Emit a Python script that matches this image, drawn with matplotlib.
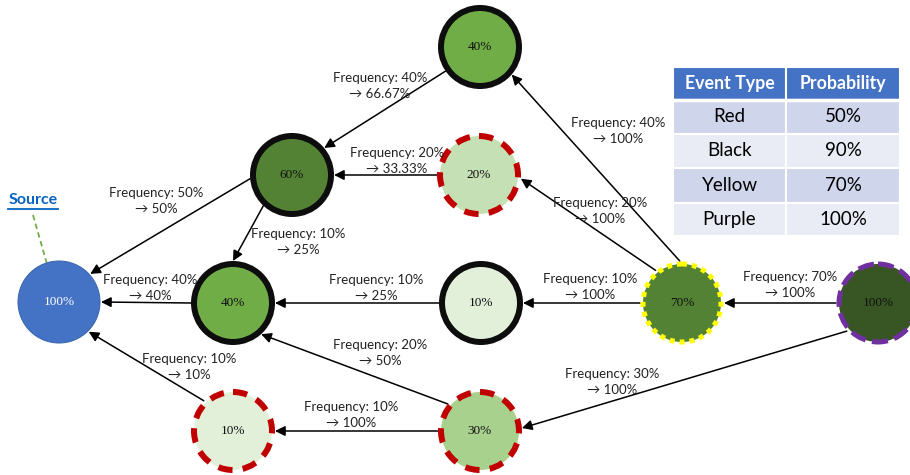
import numpy as np
import matplotlib
matplotlib.use("Agg")
import matplotlib.pyplot as plt
from matplotlib.patches import Circle, Rectangle

# ---- data ----
node_ids = ["src", "40a", "60", "20", "40b", "10a", "70", "100", "10b", "30"]
node_values = [100, 40, 60, 20, 40, 10, 70, 100, 10, 30]

edge_src = ["40a", "20", "60", "60", "40b", "10a", "10b", "30", "30", "70", "70", "70", "100", "100"]
edge_dst = ["60", "60", "src", "40b", "src", "40b", "src", "40b", "10b", "40a", "20", "10a", "70", "30"]
edge_freq = [40, 20, 50, 10, 40, 10, 10, 20, 10, 40, 20, 10, 70, 30]
edge_share = ["66.67", "33.33", "50", "25", "40", "25", "10", "50", "100", "100", "100", "100", "100", "100"]

event_types = ["Red", "Black", "Yellow", "Purple"]
event_probs = [50, 90, 70, 100]
table_headers = ["Event Type", "Probability"]

# ---- layout (pixel space, y down) ----
node_xy = {"src": (59, 302), "40a": (480, 47), "60": (292, 175), "20": (479, 175),
           "40b": (233, 303), "10a": (481, 303), "70": (682, 303), "100": (878, 303),
           "10b": (233, 431), "30": (480, 431)}
node_fill = {"src": "#4472C4", "40a": "#70AD47", "60": "#548235", "20": "#C5E0B4",
             "40b": "#70AD47", "10a": "#E2F0D9", "70": "#548235", "100": "#375623",
             "10b": "#E2F0D9", "30": "#A9D18E"}
node_border = {"src": "source", "40a": "black", "60": "black", "20": "red", "40b": "black",
               "10a": "black", "70": "yellow", "100": "purple", "10b": "red", "30": "red"}
# anchor angles on start / end node (degrees, counter-clockwise, y up)
edge_angles = [(215, 40), (180, 0), (185, 42), (227, 90), (180, 0), (180, 0), (134, 315),
               (140, 312), (180, 0), (93, 319), (129, 355), (180, 0), (180, 0), (222, 4)]
label_xy = [(380, 86), (397, 161), (156, 201), (298, 242), (150, 288), (376, 288),
            (189, 367), (380, 353), (351, 415), (618, 131), (600, 211), (590, 287),
            (790, 285), (612, 382)]

PX = 0.72  # points per pixel at dpi 100
border_style = {
    "black": dict(edgecolor="#0D0D0D", linewidth=6 * PX, linestyle="-"),
    "red": dict(edgecolor="#C00000", linewidth=6 * PX, linestyle=(0, (2.4, 1.7))),
    "yellow": dict(edgecolor="#FFFF00", linewidth=5 * PX, linestyle=(0, (1.0, 1.0))),
    "purple": dict(edgecolor="#7030A0", linewidth=5 * PX, linestyle=(0, (3.2, 1.3))),
    "source": dict(edgecolor="#3A64AE", linewidth=1 * PX, linestyle="-"),
}

LABEL_FONT = ["Lato", "DejaVu Sans"]

fig = plt.figure(figsize=(9.1, 4.75), dpi=100)
ax = fig.add_axes([0, 0, 1, 1])
ax.set_xlim(0, 910)
ax.set_ylim(475, 0)
ax.set_aspect("equal")
ax.axis("off")

# nodes
for nid, val in zip(node_ids, node_values):
    x, y = node_xy[nid]
    kind = node_border[nid]
    r = 41 if kind == "source" else 39
    ax.add_patch(Circle((x, y), r, facecolor=node_fill[nid], zorder=3, **border_style[kind]))
    ax.text(x, y, f"{val}%", ha="center", va="center", fontsize=9.5,
            family="Liberation Serif", color="white" if kind == "source" else "#111111",
            zorder=4)


def anchor(nid, ang):
    x, y = node_xy[nid]
    a = np.deg2rad(ang)
    return x + 42 * np.cos(a), y - 42 * np.sin(a)


# edges
for s, d, f, sh, (a0, a1), (lx, ly) in zip(edge_src, edge_dst, edge_freq, edge_share,
                                            edge_angles, label_xy):
    ax.annotate("", xy=anchor(d, a1), xytext=anchor(s, a0),
                arrowprops=dict(arrowstyle="-|>,head_length=0.6,head_width=0.3",
                                color="black", lw=1.1, mutation_scale=10,
                                shrinkA=0, shrinkB=0), zorder=2)
    ax.text(lx, ly, f"Frequency: {f}%\n\u2192 {sh}%", ha="center", va="center",
            multialignment="center", fontsize=9.5, family=LABEL_FONT, color="#222222",
            linespacing=1.4, zorder=5)

# source caption
src_txt = ax.text(33, 200, "Source", ha="center", va="center", fontsize=11.5,
                  fontweight="bold", family=LABEL_FONT, color="#0563C1")
fig.canvas.draw()
bb = src_txt.get_window_extent().transformed(ax.transData.inverted())
ax.plot([bb.x0, bb.x1], [209, 209], color="#0563C1", lw=1.3)
ax.plot([33, 47], [215, 264], color="#70AD47", lw=1.3, ls=(0, (3, 2)))

# table
col_x = [673, 786, 900]
row_y = [67, 100, 134, 168, 203, 236]
row_fill = ["#CFD5EA", "#E9EBF5"]
for j, head in enumerate(table_headers):
    ax.add_patch(Rectangle((col_x[j], row_y[0]), col_x[j + 1] - col_x[j], row_y[1] - row_y[0],
                           facecolor="#4472C4", edgecolor="white", lw=1.5))
    ax.text((col_x[j] + col_x[j + 1]) / 2, (row_y[0] + row_y[1]) / 2, head,
            ha="center", va="center", fontsize=12.8, fontweight="bold",
            family=LABEL_FONT, color="white")
for i, (ev, p) in enumerate(zip(event_types, event_probs)):
    y0, y1 = row_y[i + 1], row_y[i + 2]
    for j, cell in enumerate([ev, f"{p}%"]):
        ax.add_patch(Rectangle((col_x[j], y0), col_x[j + 1] - col_x[j], y1 - y0,
                               facecolor=row_fill[i % 2], edgecolor="white", lw=1.5))
        ax.text((col_x[j] + col_x[j + 1]) / 2, (y0 + y1) / 2, cell, ha="center",
                va="center", fontsize=13.5, family=LABEL_FONT, color="black")
ax.plot([col_x[0], col_x[-1]], [row_y[1], row_y[1]], color="white", lw=2.5)

fig.savefig("out.png", dpi=100)
